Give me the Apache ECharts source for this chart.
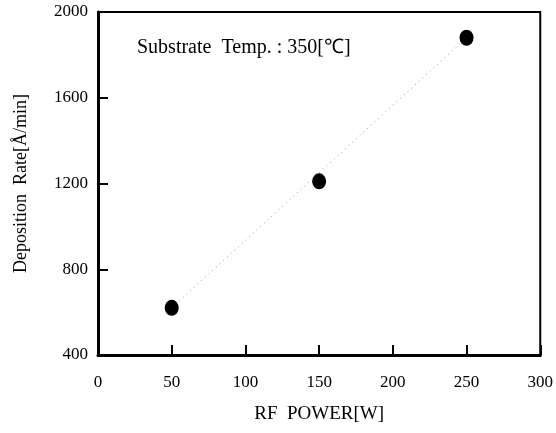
<!DOCTYPE html>
<html>
<head>
<meta charset="utf-8">
<script src="https://cdn.jsdelivr.net/npm/echarts@6/dist/echarts.min.js"></script>
<style>
  html, body { margin: 0; padding: 0; background: #fff; }
  #chart { width: 556px; height: 433px; }
</style>
</head>
<body>
<div id="chart"></div>
<script>
// measured points
const rfPower = [50, 150, 250];
const depRate = [620, 1210, 1880];
// dotted guide line through the points
const fitPower = [50, 250];
const fitRate = [620, 1880];

const note = "Substrate  Temp. : 350[℃]";
const font = "Liberation Serif";

const chart = echarts.init(document.getElementById("chart"), null, { renderer: "canvas" });

chart.setOption({
  backgroundColor: "#fff",
  animation: false,
  textStyle: { fontFamily: font, color: "#000" },
  grid: {
    left: 98,
    right: 15,
    top: 12,
    bottom: 78,
    show: true,
    borderColor: "#000",
    borderWidth: 2,
  },
  title: {
    text: note,
    left: 132,
    top: 33,
    textStyle: { fontFamily: font, fontSize: 20, fontWeight: "normal", color: "#000" },
  },
  xAxis: {
    type: "value",
    min: 0,
    max: 300,
    interval: 50,
    name: "RF  POWER[W]",
    nameLocation: "middle",
    nameGap: 50,
    nameTextStyle: { fontFamily: font, fontSize: 19, color: "#000" },
    axisLine: { lineStyle: { color: "#000", width: 3 } },
    axisTick: { inside: true, length: 10, lineStyle: { color: "#000", width: 2 } },
    axisLabel: { margin: 19, fontFamily: font, fontSize: 17, color: "#000" },
    splitLine: { show: false },
  },
  yAxis: {
    type: "value",
    min: 400,
    max: 2000,
    interval: 400,
    name: "Deposition  Rate[Å/min]",
    nameLocation: "middle",
    nameGap: 68,
    nameTextStyle: { fontFamily: font, fontSize: 18, color: "#000" },
    axisLine: { lineStyle: { color: "#000", width: 3 } },
    axisTick: { inside: true, length: 10, lineStyle: { color: "#000", width: 2 } },
    axisLabel: {
      margin: 10,
      fontFamily: font,
      fontSize: 17,
      color: "#000",
      formatter: (v) => String(v),
    },
    splitLine: { show: false },
  },
  series: [
    {
      type: "line",
      data: fitPower.map((x, i) => [x, fitRate[i]]),
      showSymbol: false,
      lineStyle: { color: "#999", width: 1, type: [1, 4] },
      z: 1,
    },
    {
      type: "scatter",
      data: rfPower.map((x, i) => [x, depRate[i]]),
      symbol: "circle",
      symbolSize: [14, 16],
      itemStyle: { color: "#000", opacity: 1 },
      z: 3,
    },
  ],
});
</script>
</body>
</html>
